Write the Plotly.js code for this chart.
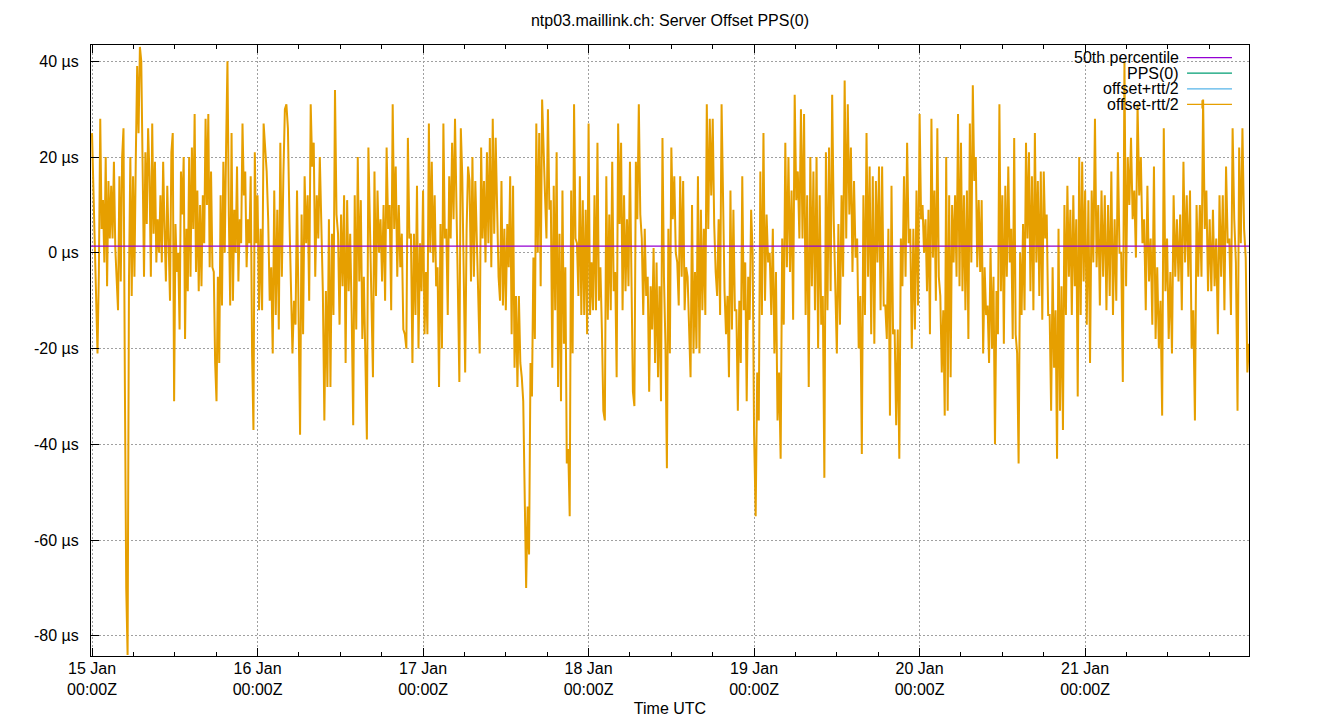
<!DOCTYPE html>
<html>
<head>
<meta charset="utf-8">
<script src="https://cdn.plot.ly/plotly-3.0.1.min.js"></script>
<style>
  body { margin: 0; background: #fff; }
  #chart { width: 1340px; height: 720px; }
</style>
</head>
<body>
<div id="chart"></div>
<script>
// offset-rtt/2 in µs, one array per day (evenly spaced samples)
var days = ['2025-01-15', '2025-01-16', '2025-01-17', '2025-01-18', '2025-01-19', '2025-01-20', '2025-01-21'];

var jan15 = [25,13,-1,-10,-21,-4,28,5,11,-2,20,-7,15,3,14,3,19,1,-6,-12,16,-6,20,26,-27,-70,-84,-6,20,-9,
  16,-5,20,39,25,43,40,22,-5,21,6,26,16,-5,27,4,19,-2,7,0,12,-2,19,5,-6,14,2,-10,21,25,
  -31,6,-4,0,-16,17,8,20,-18,5,-8,20,-5,22,5,29,-4,13,-8,10,-7,12,2,28,10,29,-3,17,-3,-4,
  -23,-31,-5,-23,12,-11,19,0,22,40,8,-11,25,-10,9,0,18,-6,7,2,27,12,17,-3,7,2,16,-21,-37,21,2];
var jan16 = [12,-12,5,-12,27,22,17,7,-10,-3,-21,13,-13,9,-16,23,-5,16,30,31,26,7,-6,-21,-10,-15,13,-17,-38,8,
  -17,16,2,12,-10,31,18,23,-5,12,3,20,3,-8,-35,-8,-28,7,-28,4,-13,34,8,4,-15,8,-7,12,-23,11,
  -8,4,-13,-36,12,-16,20,-6,11,-18,-5,-21,-39,22,5,-5,-26,17,-9,13,0,7,-6,10,-10,22,5,10,-12,31,
  5,18,-5,10,-3,4,-16,-17,-20,24,3,4,-23,4,-13,14,-20,2,-8];
var jan17 = [13,-17,-4,-17,27,0,19,-2,12,-7,-3,-28,6,-20,27,3,5,-13,16,3,23,7,28,13,-8,-27,26,16,-2,-25,
  5,18,15,-6,20,-5,15,1,-14,-21,22,3,15,-2,21,2,24,-3,28,4,24,10,-5,-10,15,-11,5,-12,6,-3,
  16,-17,14,-24,-9,-28,-9,-23,-26,-31,-55,-70,-53,-63,-23,-30,-1,-18,27,0,25,-7,32,20,12,3,30,9,11,-24,
  14,-12,21,-28,4,-31,13,-19,-3,-44,-41,-55,13,-21,31,3,2,-9,16,-13,11,-13,9,-17];
var jan18 = [27,-13,-2,-12,12,-12,23,-10,-3,-16,-33,-35,16,-14,8,-12,19,-8,-4,-26,27,6,23,-12,12,-8,7,-7,19,-5,
  -29,-32,19,7,31,8,3,-13,5,-9,-5,-29,-7,-16,1,-23,-2,-26,-7,-31,24,-5,-19,-45,5,-21,22,7,16,0,
  -2,-11,16,-5,15,-12,-3,-5,-14,-26,10,-21,-4,-20,16,-21,9,-12,5,-13,31,5,28,12,28,6,-4,-9,7,-13,
  31,7,-8,-17,-9,-26,13,-16,9,-12,-12,-33,-10,-23,16,-12,-2,-31,-5,-14,9,0];
var jan19 = [-38,-55,-25,-35,17,-13,25,-10,8,-2,0,-13,5,-21,-4,-35,-25,-43,3,-15,23,-3,20,-4,13,-14,33,11,17,3,
  30,3,29,-13,12,-28,20,-7,17,-12,20,-20,12,-15,-9,-47,21,-12,22,-8,33,7,-6,-21,6,-15,12,-5,36,3,
  31,8,22,-4,15,-1,3,-20,-9,-42,12,-13,25,-5,18,-17,16,-19,15,-2,18,-12,18,-11,-11,-18,5,-34,14,-17,
  -16,-36,-16,-43,3,-7,16,-5,23,2,5,-20,5,-16,13,-11];
var jan20 = [29,7,10,0,7,-8,9,-17,28,-1,13,-10,26,-5,-9,-25,-12,-34,20,-33,12,-26,10,-2,12,-5,29,-7,23,-8,
  12,-12,13,-18,27,-2,35,15,20,-3,11,-4,11,-21,-3,-13,-11,-23,1,-20,-5,-40,-8,-17,31,-8,12,-19,14,-5,
  18,-2,5,-18,24,-17,-21,-44,0,-13,6,-12,23,3,21,-8,16,-12,25,-2,15,-9,17,-14,17,3,8,-13,-13,-33,
  -3,-24,-12,-43,5,-33,-7,-37,10,-13,14,-5,9,-13,12,-7,7,-30,20,-13,19,-6];
var jan21 = [13,-15,11,-23,13,-2,28,-3,10,-11,13,-5,12,-12,10,-9,17,-13,7,-10,21,0,0,-27,40,-7,20,10,24,7,
  13,-1,31,12,20,2,7,-12,14,-6,3,-15,18,-18,-3,-20,-10,-34,26,-8,3,-18,-4,-21,12,-5,7,-6,8,-12,
  19,-2,12,-5,13,-20,-12,-35,10,-5,10,-5,32,5,13,-8,7,-8,9,-7,3,-17,12,-5,12,-12,18,2,3,-13,
  26,7,-2,-33,22,2,26,5,-1,-25,-19];

var median50 = 1.4;

var yTickVals = [-80, -60, -40, -20, 0, 20, 40];
var yTickText = ['-80 µs', '-60 µs', '-40 µs', '-20 µs', '0 µs', '20 µs', '40 µs'];

var legendNames = ['50th percentile', 'PPS(0)', 'offset+rtt/2', 'offset-rtt/2'];
var legendColors = ['#9400d3', '#009e73', '#56b4e9', '#e69f00'];

var DAY = 86400000;

// spread each day's samples evenly over that day
var xs = [], ys = [];
[jan15, jan16, jan17, jan18, jan19, jan20, jan21].forEach(function(vals, d) {
  var t0 = Date.parse(days[d] + 'T00:00:00Z');
  vals.forEach(function(v, i) {
    xs.push(t0 + i * DAY / vals.length);
    ys.push(v);
  });
});

var day0 = Date.parse(days[0] + 'T00:00:00Z');
var xStart = day0 - 9 * 60000;
var xEnd = xs[xs.length - 1];

var offsetTrace = {
  x: xs, y: ys, type: 'scatter', mode: 'lines',
  line: {color: '#e69f00', width: 2},
  name: 'offset-rtt/2', showlegend: false, hoverinfo: 'skip'
};
var medianTrace = {
  x: [xStart, xEnd], y: [median50, median50], type: 'scatter', mode: 'lines',
  line: {color: '#9400d3', width: 1.2},
  name: '50th percentile', showlegend: false, hoverinfo: 'skip'
};

// gnuplot style key: text on the left, sample line on the right
var legendY = [0.9794, 0.9539, 0.9283, 0.9028];
var annotations = [], shapes = [];
shapes.push({type: 'rect', xref: 'paper', yref: 'paper', x0: 0.822, x1: 0.992, y0: 0.888, y1: 0.995,
  fillcolor: 'white', line: {width: 0}, layer: 'between'});
legendNames.forEach(function(name, i) {
  annotations.push({xref: 'paper', yref: 'paper', x: 0.94, y: legendY[i], text: name,
    showarrow: false, xanchor: 'right', yanchor: 'middle', borderpad: 0,
    font: {family: 'Liberation Sans, Arial, sans-serif', size: 16, color: '#000'}});
  shapes.push({type: 'line', xref: 'paper', yref: 'paper', x0: 0.9465, x1: 0.9853,
    y0: legendY[i], y1: legendY[i], line: {color: legendColors[i], width: 1.2}});
});
shapes.push({type: 'line', xref: 'paper', yref: 'paper', x0: 0.9594, x1: 0.9594,
  y0: legendY[3] - 0.0066, y1: legendY[3] + 0.0066, line: {color: legendColors[3], width: 1.2}});

var font = {family: 'Liberation Sans, Arial, sans-serif', size: 16, color: '#000'};

var layout = {
  width: 1340, height: 720,
  margin: {l: 91, r: 91, t: 45, b: 64},
  paper_bgcolor: '#fff', plot_bgcolor: '#fff',
  font: font,
  showlegend: false,
  title: {text: 'ntp03.maillink.ch: Server Offset PPS(0)', font: font,
    x: 0.5, xref: 'paper', y: 1 - 20 / 720, yref: 'container', yanchor: 'middle'},
  xaxis: {
    type: 'date', range: [xStart, xEnd],
    tickmode: 'linear', tick0: day0, dtick: DAY,
    tickformat: '%d %b<br>%H:%MZ', ticklabelstandoff: -2,
    ticks: 'inside', ticklen: 8, tickcolor: '#000', tickwidth: 1,
    minor: {dtick: DAY / 4, ticks: 'inside', ticklen: 4, tickcolor: '#000', showgrid: false},
    showline: true, linecolor: '#000', linewidth: 1, mirror: 'allticks',
    showgrid: true, gridcolor: '#a0a0a0', griddash: '2px,2px', gridwidth: 1,
    zeroline: false, tickfont: font,
    title: {text: 'Time UTC', font: font}
  },
  yaxis: {
    range: [-84.2, 43.4],
    tickmode: 'array', tickvals: yTickVals, ticktext: yTickText,
    ticks: 'inside', ticklen: 8, tickcolor: '#000', tickwidth: 1,
    showline: true, linecolor: '#000', linewidth: 1, mirror: true,
    showgrid: true, gridcolor: '#a0a0a0', griddash: '2px,2px', gridwidth: 1,
    zeroline: false, tickfont: font, ticklabelstandoff: 8
  },
  annotations: annotations,
  shapes: shapes
};

Plotly.newPlot('chart', [offsetTrace, medianTrace], layout, {staticPlot: true});
</script>
</body>
</html>
